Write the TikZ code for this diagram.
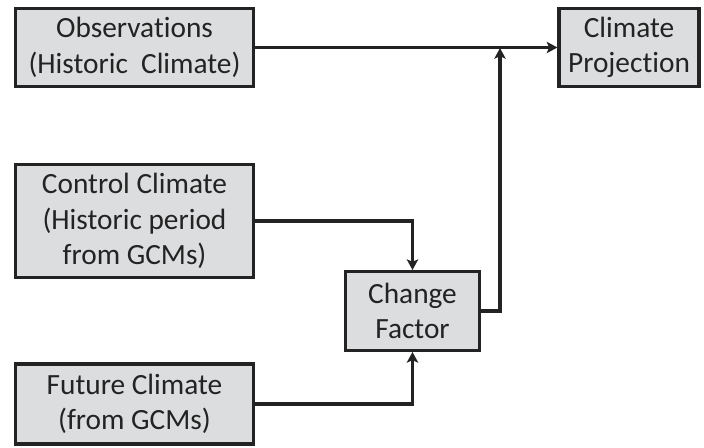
\documentclass[tikz,border=0pt]{standalone}
\usepackage{fontspec}
\setmainfont[Ligatures=NoCommon]{Carlito}
\usepackage{tikz}
\usetikzlibrary{arrows.meta, positioning, calc}

\definecolor{boxfill}{RGB}{220,221,222}
\definecolor{ink}{RGB}{35,35,35}
% keep t and i apart (no ti ligature)
\newcommand{\tisep}{t\kern0pt i}

\tikzset{
	block/.style={draw=ink, fill=boxfill, line width=2.4pt, text=ink, align=center,
		font=\fontsize{22}{26.5}\selectfont, inner sep=0pt},
	wide/.style={block, minimum width=178pt, minimum height=59pt},
	flow/.style={draw=ink, line width=2.4pt, -{Stealth[length=8pt, width=8.5pt, inset=1.8pt]}}
}

\begin{document}
\begin{tikzpicture}[x=0.75pt, y=-0.75pt]
		\useasboundingbox (0,0) rectangle (704,447);
		% inputs on the left
		\node[wide] (obs) at (134.5,47.5) {Observa\tisep ons\\(Historic~~Climate)};
		\node[wide, minimum height=85pt] (ctrl) at (134.5,221) {Control Climate\\(Historic period\\from GCMs)};
		\node[wide, minimum height=60pt] (fut) at (134.5,404) {Future Climate\\(from GCMs)};
		%% change factor and result
		\node[block, minimum width=101pt, minimum height=59pt] (cf) at (412.5,311) {Change\\Factor};
		\node[block, minimum width=105pt, minimum height=59pt] (proj) at (629,47.5) {Climate\\Projec\tisep on};
		\coordinate (join) at (500,48);
		
		\draw[flow] (obs) -- (proj);
		\draw[flow] (ctrl.east) -| (cf.north);
		\draw[flow] (fut.east) -| (cf.south);
		\draw[flow] (cf.east) -| (join);
		
	\end{tikzpicture}
\end{document}
